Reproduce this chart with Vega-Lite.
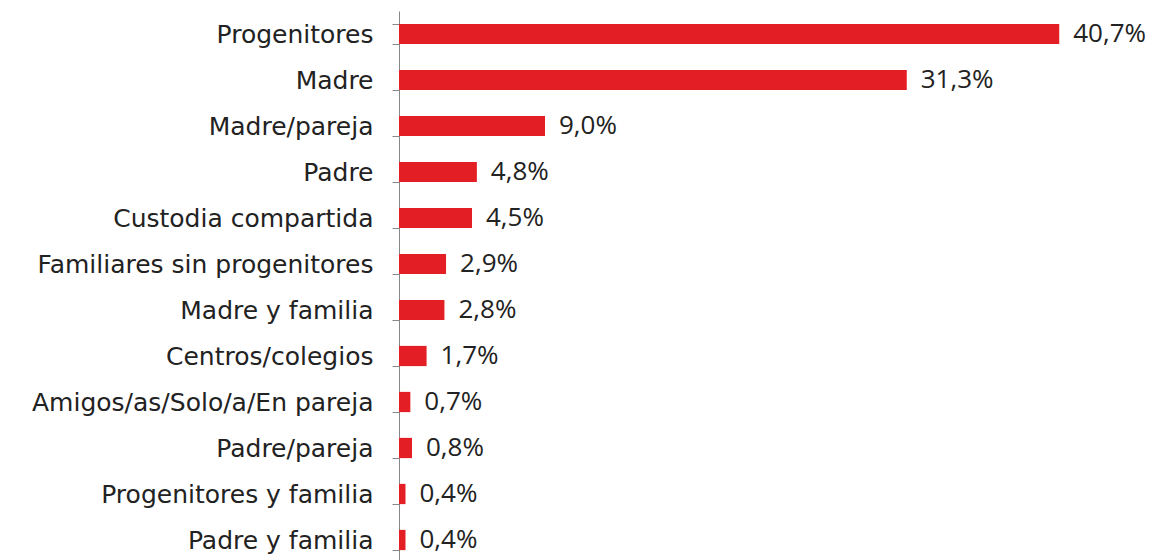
{
  "$schema": "https://vega.github.io/schema/vega-lite/v6.json",
  "autosize": {"type": "none"},
  "padding": {"left": 399, "top": 11, "right": 26, "bottom": 0},
  "width": 730,
  "height": 552,
  "background": "white",
  "config": {
    "locale": {"number": {"decimal": ",", "thousands": ".", "grouping": [3], "currency": ["", " €"]}},
    "view": {"stroke": null}
  },
  "data": {"values": [
    {"cat": "Progenitores", "v": 0.407},
    {"cat": "Madre", "v": 0.313},
    {"cat": "Madre/pareja", "v": 0.090},
    {"cat": "Padre", "v": 0.048},
    {"cat": "Custodia compartida", "v": 0.045},
    {"cat": "Familiares sin progenitores", "v": 0.029},
    {"cat": "Madre y familia", "v": 0.028},
    {"cat": "Centros/colegios", "v": 0.017},
    {"cat": "Amigos/as/Solo/a/En pareja", "v": 0.007},
    {"cat": "Padre/pareja", "v": 0.008},
    {"cat": "Progenitores y familia", "v": 0.004},
    {"cat": "Padre y familia", "v": 0.004}
  ]},
  "encoding": {
    "y": {"field": "cat", "type": "nominal", "sort": null,
      "scale": {"paddingInner": 0.56, "paddingOuter": 0.28},
      "axis": {"title": null, "domainColor": "#888", "ticks": true, "tickColor": "#888", "tickWidth": 1, "tickOpacity": 1, "tickSize": 7, "tickBand": "extent", "tickExtra": true,
        "labelFont": "DejaVu Sans", "labelFontSize": 25, "labelColor": "#222", "labelPadding": 19, "labelLimit": 400}},
    "x": {"field": "v", "type": "quantitative", "scale": {"domain": [0, 0.45]}, "axis": null}
  },
  "layer": [
    {"mark": {"type": "bar", "color": "#e31e24"}},
    {"mark": {"type": "text", "align": "left", "dx": 14, "font": "Open Sans", "fontSize": 26, "color": "#222"},
     "encoding": {"text": {"field": "v", "type": "quantitative", "format": ".1%"}}}
  ]
}
